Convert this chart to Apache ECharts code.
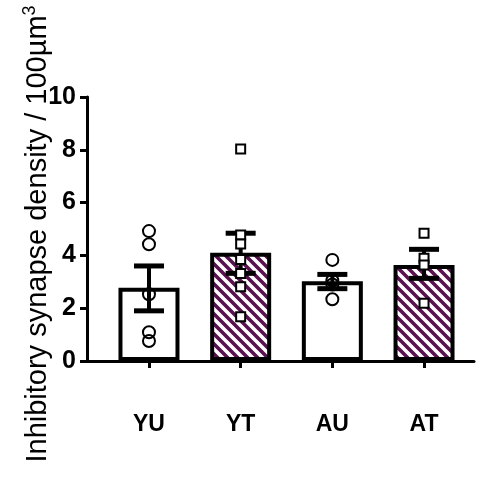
<!DOCTYPE html>
<html>
<head>
<meta charset="utf-8">
<script src="https://cdn.jsdelivr.net/npm/echarts@6/dist/echarts.min.js"></script>
<style>html,body{margin:0;padding:0;background:#fff}#c{width:486px;height:481px}</style>
</head>
<body>
<div id="c"></div>
<script>
const categories = ['YU', 'YT', 'AU', 'AT'];
const means = [2.77, 4.1, 3.02, 3.64];
const sems = [0.85, 0.76, 0.27, 0.55];
const errCenters = [2.75, 4.08, 3.01, 3.68];
const ptsYU = [4.92, 4.42, 2.53, 1.09, 0.76];
const ptsYT = [8.03, 4.77, 4.43, 3.84, 3.31, 2.81, 1.68];
const ptsAU = [3.83, 3.05, 2.90, 2.34];
const ptsAT = [4.84, 3.89, 3.64, 2.19];
const yTicks = [0, 2, 4, 6, 8, 10];
const yTitle = 'Inhibitory synapse density / 100µm';

function makePattern() {
  const c = document.createElement('canvas');
  c.width = 10; c.height = 10;
  const g = c.getContext('2d');
  g.fillStyle = '#ffffff';
  g.fillRect(0, 0, 10, 10);
  g.strokeStyle = '#5a1150';
  g.lineWidth = 3.6;
  g.beginPath();
  g.moveTo(-5, -5); g.lineTo(15, 15);
  g.moveTo(-5, 5); g.lineTo(5, 15);
  g.moveTo(5, -5); g.lineTo(15, 5);
  g.stroke();
  return c;
}
const pattern = { image: makePattern(), repeat: 'repeat' };
const hatched = [false, true, false, true];

const chart = echarts.init(document.getElementById('c'), null, { renderer: 'canvas' });

const barData = means.map((m, i) => ({
  value: [i, m],
  itemStyle: { color: hatched[i] ? pattern : '#ffffff', borderColor: '#000', borderWidth: 4 }
}));
const errData = errCenters.map((m, i) => [i, m, sems[i]]);
const circlePts = [];
ptsYU.forEach(v => circlePts.push([0, v]));
ptsAU.forEach(v => circlePts.push([2, v]));
const squarePts = [];
ptsYT.forEach(v => squarePts.push([1, v]));
ptsAT.forEach(v => squarePts.push([3, v]));

chart.setOption({
  animation: false,
  backgroundColor: '#ffffff',
  grid: { left: 87, right: 12, top: 97, bottom: 120, containLabel: false },
  xAxis: {
    type: 'value', min: -0.676, max: 3.545,
    splitLine: { show: false },
    axisLine: { show: true, onZero: false, lineStyle: { color: '#000', width: 3 } },
    axisTick: { show: true, customValues: [0, 1, 2, 3], length: 7, lineStyle: { color: '#000', width: 3 } },
    axisLabel: {
      customValues: [0, 1, 2, 3],
      formatter: v => categories[Math.round(v)],
      color: '#000', fontFamily: 'Liberation Sans', fontWeight: 'bold', fontSize: 23, margin: 52
    }
  },
  yAxis: {
    type: 'value', min: 0, max: 10, interval: 2,
    splitLine: { show: false },
    axisLine: { show: true, onZero: false, lineStyle: { color: '#000', width: 3 } },
    axisTick: { show: true, inside: false, length: 7, lineStyle: { color: '#000', width: 3 } },
    axisLabel: { color: '#000', fontFamily: 'Liberation Sans', fontWeight: 'bold', fontSize: 25, margin: 11,
      formatter: v => yTicks.includes(v) ? String(v) : '' }
  },
  graphic: [{
    type: 'text',
    x: 38, y: 234,
    rotation: Math.PI / 2,
    style: {
      text: '{a|' + yTitle + '}{s|3}',
      rich: {
        a: { fontFamily: 'Liberation Sans', fontSize: 29, fill: '#000' },
        s: { fontFamily: 'Liberation Sans', fontSize: 18, fill: '#000', padding: [0, 0, 15, 0] }
      },
      align: 'center', verticalAlign: 'middle'
    }
  }],
  series: [
    { type: 'bar', data: barData, barWidth: 61, z: 2 },
    {
      type: 'custom', z: 3, data: errData,
      renderItem: function (params, api) {
        const x = api.value(0), m = api.value(1), e = api.value(2);
        const t = api.coord([x, m + e]);
        const b = api.coord([x, m - e]);
        const hw = 15;
        const st = { stroke: '#000', lineWidth: 4 };
        const cs = { stroke: '#000', lineWidth: 5 };
        return { type: 'group', children: [
          { type: 'line', shape: { x1: t[0], y1: t[1], x2: b[0], y2: b[1] }, style: st },
          { type: 'line', shape: { x1: t[0] - hw, y1: t[1], x2: t[0] + hw, y2: t[1] }, style: cs },
          { type: 'line', shape: { x1: b[0] - hw, y1: b[1], x2: b[0] + hw, y2: b[1] }, style: cs }
        ] };
      }
    },
    { type: 'scatter', z: 4, data: circlePts, symbol: 'circle', symbolSize: 12,
      itemStyle: { color: 'rgba(255,255,255,0)', borderColor: '#000', borderWidth: 2, opacity: 1 } },
    { type: 'scatter', z: 4, data: squarePts, symbol: 'rect', symbolSize: 9,
      itemStyle: { color: '#ffffff', borderColor: '#000', borderWidth: 2, opacity: 1 } }
  ]
});
</script>
</body>
</html>
